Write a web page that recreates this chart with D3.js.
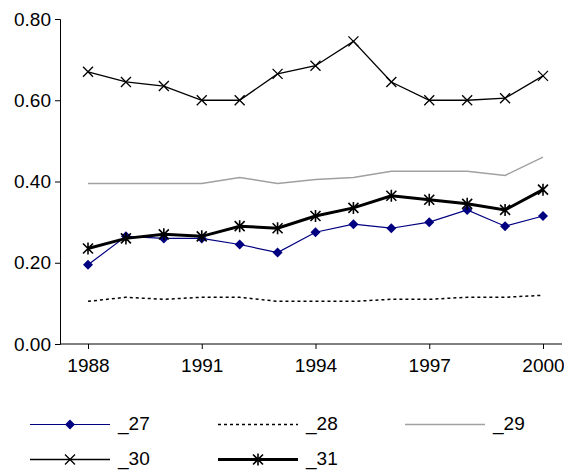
<!DOCTYPE html>
<html><head><meta charset="utf-8">
<script src="https://cdn.jsdelivr.net/npm/d3@7"></script>
<style>body{margin:0;background:#fff}text{font-family:Arial,"Liberation Sans",sans-serif}</style>
</head><body>
<script>
const years = [1988,1989,1990,1991,1992,1993,1994,1995,1996,1997,1998,1999,2000]
const tickYears = [1988,1991,1994,1997,2000]
const yTicks = [0,0.2,0.4,0.6,0.8]
const s27 = [0.195,0.265,0.26,0.26,0.245,0.225,0.275,0.295,0.285,0.30,0.33,0.29,0.315]
const s28 = [0.105,0.115,0.11,0.115,0.115,0.105,0.105,0.105,0.11,0.11,0.115,0.115,0.12]
const s29 = [0.395,0.395,0.395,0.395,0.41,0.395,0.405,0.41,0.425,0.425,0.425,0.415,0.46]
const s30 = [0.67,0.645,0.635,0.60,0.60,0.665,0.685,0.745,0.645,0.60,0.60,0.605,0.66]
const s31 = [0.235,0.26,0.27,0.265,0.29,0.285,0.315,0.335,0.365,0.355,0.345,0.33,0.38]

const series = [
  {name:'_27', v:s27, color:'#000080', w:1.2, dash:null, mark:'diamond'},
  {name:'_28', v:s28, color:'#000', w:1.5, dash:'3,3', mark:null},
  {name:'_29', v:s29, color:'#a0a0a0', w:1.5, dash:null, mark:null},
  {name:'_30', v:s30, color:'#000', w:1.3, dash:null, mark:'x'},
  {name:'_31', v:s31, color:'#000', w:3, dash:null, mark:'star'}
]

const W = 564, H = 472
const svg = d3.select('body').append('svg').attr('width', W).attr('height', H)
const x = d3.scalePoint().domain(years).range([88, 543])
const y = d3.scaleLinear().domain([0, 0.8]).range([344, 19])

svg.append('g').attr('transform', 'translate(60,0)')
  .call(d3.axisLeft(y).tickValues(yTicks).tickFormat(d3.format('.2f')).tickSize(5))
  .call(g => g.selectAll('text').attr('font-size', 19).attr('fill', '#000').attr('dx', -1))
svg.append('g').attr('transform', 'translate(0,344)')
  .call(d3.axisBottom(x).tickValues(tickYears).tickSize(5))
  .call(g => g.select('.domain').attr('d', 'M60,0H562'))
  .call(g => g.selectAll('text').attr('font-size', 19).attr('fill', '#000').attr('dy', '1.05em'))

function marker(g, type, cx, cy, color) {
  if (type === 'diamond') {
    g.append('path').attr('d', `M${cx},${cy-5}L${cx+5},${cy}L${cx},${cy+5}L${cx-5},${cy}Z`).attr('fill', color)
  } else if (type === 'x') {
    g.append('path').attr('d', `M${cx-5},${cy-5}L${cx+5},${cy+5}M${cx-5},${cy+5}L${cx+5},${cy-5}`).attr('stroke', color).attr('stroke-width', 1.3)
  } else if (type === 'star') {
    g.append('path').attr('d', `M${cx-5},${cy-5}L${cx+5},${cy+5}M${cx-5},${cy+5}L${cx+5},${cy-5}M${cx},${cy-6}V${cy+6}`).attr('stroke', color).attr('stroke-width', 1.6)
  }
}

const line = d3.line().x((d, i) => x(years[i])).y(d => y(d))
series.forEach(s => {
  const g = svg.append('g')
  g.append('path').attr('d', line(s.v)).attr('fill', 'none').attr('stroke', s.color)
    .attr('stroke-width', s.w).attr('stroke-dasharray', s.dash)
  if (s.mark) s.v.forEach((d, i) => marker(g, s.mark, x(years[i]), y(d), s.color))
})

const legendPos = [[30,424],[218,424],[405,424],[30,459],[218,459]]
series.forEach((s, i) => {
  const [lx, ly] = legendPos[i]
  const g = svg.append('g')
  g.append('line').attr('x1', lx).attr('x2', lx + 80).attr('y1', ly + 0.5).attr('y2', ly + 0.5)
    .attr('stroke', s.color).attr('stroke-width', s.w).attr('stroke-dasharray', s.dash)
  if (s.mark) marker(g, s.mark, lx + 40, ly + 0.5, s.color)
  g.append('text').attr('x', lx + 88).attr('y', ly + 6).attr('font-size', 19).text(s.name)
})
</script>
</body></html>
